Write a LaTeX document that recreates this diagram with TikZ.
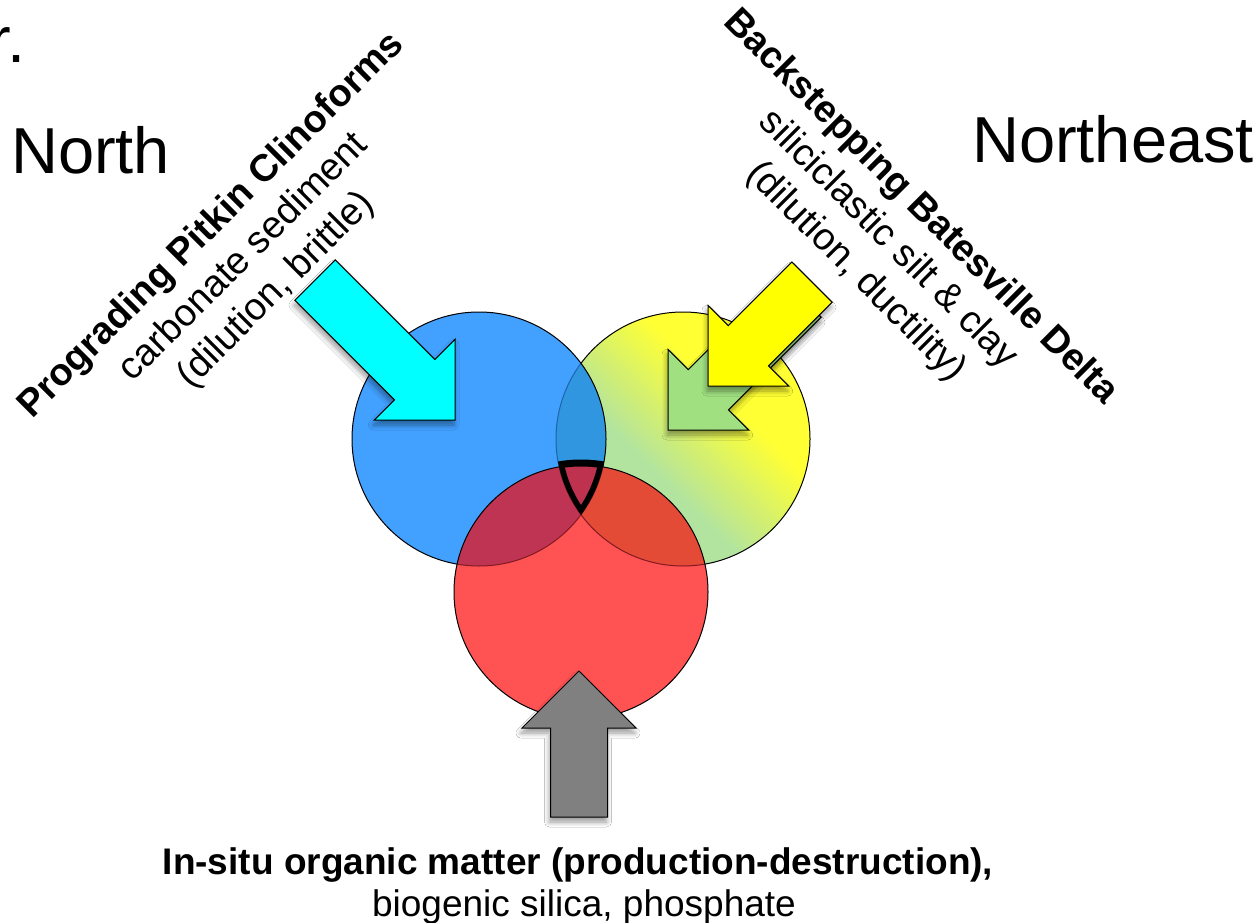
\documentclass[tikz,border=0pt]{standalone}
\usepackage{fontspec}
\setmainfont{Liberation Sans}
\usetikzlibrary{shadows.blur}
\definecolor{cblue}{RGB}{66,160,255}
\definecolor{clens}{RGB}{48,150,224}
\definecolor{cyel}{RGB}{255,255,51}
\definecolor{cgrn}{RGB}{178,228,160}
\definecolor{cred}{RGB}{255,82,82}
\definecolor{credblue}{RGB}{191,52,82}
\definecolor{credyel}{RGB}{228,75,54}
\definecolor{ctriple}{RGB}{190,50,80}
\definecolor{cdarkred}{RGB}{130,25,35}
\definecolor{cdarkblue}{RGB}{30,100,170}
\definecolor{ccyan}{RGB}{0,255,255}
\definecolor{carrowyel}{RGB}{255,255,0}
\definecolor{carrowgrn}{RGB}{160,224,128}
\definecolor{cgray}{RGB}{128,128,128}
\begin{document}
\begin{tikzpicture}[x=1pt,y=-1pt,
  outl/.style={draw=black,line width=1pt},
  arrowbody/.style={draw=black,line width=1pt,line join=miter,
    blur shadow={shadow xshift=-1pt,shadow yshift=-5pt,shadow blur radius=5pt,shadow blur steps=8,shadow opacity=40}},
  txtblock/.style={inner sep=0pt,font=\fontsize{38}{45.6}\selectfont,align=center},
  bigtxt/.style={inner sep=0pt,anchor=base west,font=\fontsize{65}{70}\selectfont},
  bottxt/.style={inner sep=0pt,anchor=base,font=\fontsize{37}{43}\selectfont},
]
\useasboundingbox (0,0) rectangle (1258,923);
\fill[white] (0,0) rectangle (1258,923);

\coordinate (B) at (479,439);
\coordinate (Y) at (683,439);
\coordinate (R) at (581,592);

% yellow circle with gradient
\begin{scope}
  \clip (Y) circle[radius=127];
  \fill[cyel] (Y) circle[radius=130];
  \foreach \i in {0,...,60} {
    \pgfmathsetmacro\sa{-130+4*\i}
    \pgfmathsetmacro\sb{\sa+5}
    \pgfmathtruncatemacro\pct{max(0,min(100,((\sa)+2+45)/105*100))}
    \colorlet{bandc}{cyel!\pct!cgrn}
    \fill[bandc] ({683+0.7071*((\sa)-140)},{439+0.7071*(-140-(\sa))}) --
                 ({683+0.7071*((\sb)-140)},{439+0.7071*(-140-(\sb))}) --
                 ({683+0.7071*((\sb)+140)},{439+0.7071*(140-(\sb))}) --
                 ({683+0.7071*((\sa)+140)},{439+0.7071*(140-(\sa))}) -- cycle;
  }
\end{scope}
\draw[outl] (Y) circle[radius=127];

% blue circle
\fill[cblue] (B) circle[radius=127];
\begin{scope}
  \clip (B) circle[radius=127];
  \fill[clens] (Y) circle[radius=127];
  \draw[cdarkblue,line width=1pt] (Y) circle[radius=127];
\end{scope}
\draw[outl] (B) circle[radius=127];

% red circle and overlaps
\fill[cred] (R) circle[radius=127];
\begin{scope}
  \clip (R) circle[radius=127];
  \fill[credblue] (B) circle[radius=127];
  \fill[credyel] (Y) circle[radius=127];
  \begin{scope}
    \clip (B) circle[radius=127];
    \fill[ctriple] (Y) circle[radius=127];
  \end{scope}
  \draw[cdarkred,line width=1pt] (B) circle[radius=127];
  \draw[cdarkred,line width=1pt] (Y) circle[radius=127];
\end{scope}
\draw[outl] (R) circle[radius=127];

% thick outline of the triple intersection
\begin{scope}
  \clip (B) circle[radius=127];
  \clip (Y) circle[radius=127];
  \draw[black,line width=7pt] (R) circle[radius=129];
  \clip (R) circle[radius=127];
  \draw[black,line width=11pt] (B) circle[radius=127];
  \draw[black,line width=11pt] (Y) circle[radius=127];
\end{scope}

% arrows
\draw[arrowbody,fill=carrowgrn] (780.8,277) -- (688.2,369.6) -- (668,349.4) -- (668,430) -- (748.6,430) -- (728.5,409.9) -- (821.1,317.3) -- cycle;
\draw[arrowbody,fill=carrowyel] (791.8,262) -- (728.2,325.6) -- (708,305.4) -- (708,386) -- (788.6,386) -- (768.5,365.9) -- (832.1,302.3) -- cycle;
\draw[arrowbody,fill=ccyan] (335.2,259.9) -- (434.9,359.5) -- (455,339.4) -- (455,420) -- (374.4,420) -- (394.5,399.9) -- (294.9,300.2) -- cycle;
\draw[arrowbody,fill=cgray] (550.5,817) -- (550.5,728) -- (522,728) -- (579,671) -- (636,728) -- (607.5,728) -- (607.5,817) -- cycle;

% texts
\node[bigtxt] (title) at (-11,63) {r.};
\node[bigtxt] (north) at (11,173) {North};
\node[bigtxt] (northeast) at (972,163) {Northeast};
\node[txtblock,rotate=45] (pitkin) at (244,258) {\textbf{Prograding Pitkin Clinoforms}\\carbonate sediment\\(dilution, brittle)};
\node[txtblock,rotate=-45] (batesville) at (888,240) {\textbf{Backstepping Batesville Delta}\\siliciclastic silt \& clay\\(dilution, ductility)};
\node[bottxt] (insitu) at (578,874) {\textbf{In-situ organic matter (production-destruction),}};
\node[bottxt] (biogenic) at (584,916) {biogenic silica, phosphate};
\end{tikzpicture}
\end{document}
